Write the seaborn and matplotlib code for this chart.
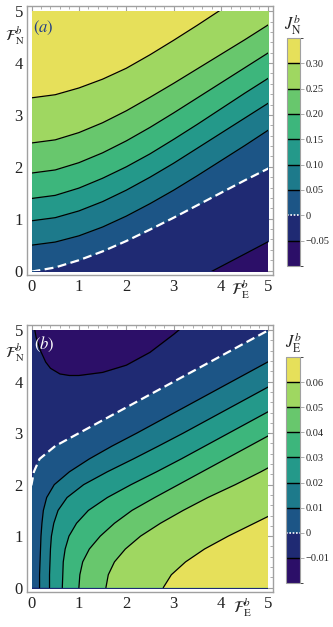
import matplotlib
matplotlib.use("Agg")
import matplotlib.pyplot as plt
import seaborn as sns
from matplotlib.colors import ListedColormap, BoundaryNorm
from matplotlib.colorbar import ColorbarBase
from matplotlib.patches import Rectangle
from matplotlib.ticker import MultipleLocator

sns.set_style("white")
plt.rcParams['font.family'] = ['Liberation Serif', 'DejaVu Serif']
plt.rcParams['mathtext.fontset'] = 'stix'

# band colours, lowest level band first
band_colors = ['#2c0f68', '#1f2a73', '#1c5586', '#1d7a8b', '#24998a',
               '#3db67c', '#68c76d', '#9fd761', '#e6e05a']

# ---- panel (a): J_N^b, level lines read as F_N at given F_E ----
fe_a = [0, 0.5, 1, 1.5, 2, 2.5, 3, 3.5, 4, 4.5, 5]
jn_m005 = [-1.7, -1.5, -1.3, -1.1, -0.88, -0.64, -0.4, -0.16, 0.08, 0.32, 0.56]
jn_000 = [-0.02, 0.06, 0.2, 0.37, 0.57, 0.79, 1.02, 1.26, 1.5, 1.74, 1.97]
jn_005 = [0.49, 0.55, 0.67, 0.84, 1.05, 1.29, 1.55, 1.83, 2.12, 2.41, 2.71]
jn_010 = [0.96, 1.02, 1.15, 1.33, 1.55, 1.8, 2.07, 2.36, 2.65, 2.94, 3.23]
jn_015 = [1.39, 1.45, 1.59, 1.78, 2.0, 2.25, 2.53, 2.82, 3.12, 3.42, 3.71]
jn_020 = [1.88, 1.94, 2.08, 2.27, 2.5, 2.76, 3.04, 3.33, 3.62, 3.91, 4.2]
jn_025 = [2.46, 2.52, 2.66, 2.85, 3.08, 3.34, 3.61, 3.89, 4.17, 4.45, 4.74]
jn_030 = [3.33, 3.39, 3.52, 3.69, 3.9, 4.16, 4.44, 4.73, 5.03, 5.33, 5.63]
levels_a = [-0.05, 0, 0.05, 0.10, 0.15, 0.20, 0.25, 0.30]
labels_a = ['\u22120.05', '0', '0.05', '0.10', '0.15', '0.20', '0.25', '0.30']

# ---- panel (b): J_E^b, level lines read as F_E at given F_N ----
fn_b = [0, 0.25, 0.5, 0.75, 1, 1.25, 1.5, 1.75, 2, 2.25, 2.5, 2.75, 3, 3.5, 4, 4.5, 5]
je_000 = [-2.0, -1.6, -1.3, -1.0, -0.8, -0.6, -0.4, -0.2, 0.0, 0.05, 0.17, 0.5, 1.0, 2.0, 3.0, 4.0, 5.0]
je_001 = [0.17, 0.17, 0.18, 0.19, 0.2, 0.22, 0.25, 0.32, 0.48, 0.8, 1.22, 1.7, 2.22, 3.22, 4.22, 5.22, 6.22]
je_002 = [0.38, 0.38, 0.39, 0.4, 0.42, 0.47, 0.56, 0.75, 1.1, 1.6, 2.15, 2.68, 3.2, 4.2, 5.2, 6.2, 7.2]
je_003 = [0.65, 0.66, 0.67, 0.71, 0.79, 0.95, 1.2, 1.6, 2.1, 2.64, 3.16, 3.66, 4.16, 5.16, 6.16, 7.16, 8.16]
je_004 = [1.0, 1.02, 1.08, 1.22, 1.45, 1.75, 2.12, 2.6, 3.1, 3.6, 4.1, 4.6, 5.1, 6.1, 7.1, 8.1, 9.1]
je_005 = [1.57, 1.62, 1.75, 1.98, 2.3, 2.72, 3.2, 3.72, 4.3, 4.84, 5.34, 5.84, 6.34, 7.34, 8.34, 9.34, 10.34]
je_006 = [2.78, 2.95, 3.25, 3.65, 4.15, 4.7, 5.25, 5.8, 6.35, 6.9, 7.4, 7.9, 8.4, 9.4, 10.4, 11.4, 12.4]
# the -0.01 line closes off the top-left corner: F_N at given F_E
fe_top = [0, 0.05, 0.1, 0.2, 0.3, 0.4, 0.6, 0.8, 1.0, 1.5, 2.0, 2.5, 3.0, 3.5, 4.0, 5.0]
je_m001 = [5.5, 5.1, 4.85, 4.58, 4.38, 4.26, 4.15, 4.12, 4.12, 4.18, 4.32, 4.57, 4.92, 5.3, 5.7, 6.5]
levels_b = [-0.01, 0, 0.01, 0.02, 0.03, 0.04, 0.05, 0.06]
labels_b = ['\u22120.01', '0', '0.01', '0.02', '0.03', '0.04', '0.05', '0.06']

frame_gray = '#a0a0a0'
fig = plt.figure(figsize=(3.33, 6.27), dpi=100)


def setup_axes(ax):
    ax.set_xlim(-0.095, 5.095)
    ax.set_ylim(-0.085, 5.1)
    ax.set_xticks(range(6))
    ax.set_yticks(range(6))
    ax.xaxis.set_minor_locator(MultipleLocator(0.2))
    ax.yaxis.set_minor_locator(MultipleLocator(0.2))
    ax.tick_params(which='both', direction='in', top=True, right=True,
                   color=frame_gray, labelsize=12, pad=3, labelcolor='#222222')
    ax.tick_params(which='major', length=4, width=0.8)
    ax.tick_params(which='minor', length=2, width=0.6)
    for s in ax.spines.values():
        s.set_color(frame_gray)
        s.set_linewidth(1.0)


def contour_line(ax, x, y, clip, zero=False):
    if zero:
        sns.lineplot(x=x, y=y, ax=ax, color='white', lw=1.6, sort=False,
                     estimator=None, linestyle=(0, (4, 2)))
    else:
        sns.lineplot(x=x, y=y, ax=ax, color='black', lw=0.9, sort=False,
                     estimator=None)
    ax.lines[-1].set_clip_path(clip)


def add_cbar(rect, levels, labels, title, title_xy):
    cax = fig.add_axes(rect)
    step = levels[1] - levels[0]
    bounds = [levels[0] - step] + levels + [levels[-1] + step]
    cmap = ListedColormap(band_colors)
    norm = BoundaryNorm(bounds, cmap.N)
    cb = ColorbarBase(cax, cmap=cmap, norm=norm, boundaries=bounds,
                      ticks=levels, spacing='uniform')
    cb.set_ticklabels(labels)
    for lv in levels:
        if lv == 0:
            cax.axhline(lv, color='white', lw=1.2, ls=(0, (1, 1)))
        else:
            cax.axhline(lv, color='black', lw=1.0)
    cb.outline.set_edgecolor(frame_gray)
    cb.outline.set_linewidth(0.8)
    cax.tick_params(length=3, width=0.6, color=frame_gray, labelsize=7.5, pad=1,
                    labelcolor='#222222')
    fig.text(title_xy[0], title_xy[1], title, fontsize=12, ha='center', va='center')


# ---------- panel (a) ----------
ax_a = fig.add_axes([0.0811, 0.5614, 0.7387, 0.4290])
setup_axes(ax_a)
clip_a = Rectangle((0, 0), 5, 5, transform=ax_a.transData)
base = ax_a.fill_between([0, 5], -1, 6, color=band_colors[0], lw=0)
base.set_clip_path(clip_a)
curves_a = [jn_m005, jn_000, jn_005, jn_010, jn_015, jn_020, jn_025, jn_030]
for k, c in enumerate(curves_a):
    band = ax_a.fill_between(fe_a, c, 10, color=band_colors[k + 1], lw=0)
    band.set_clip_path(clip_a)
for lv, c in zip(levels_a, curves_a):
    contour_line(ax_a, fe_a, c, clip_a, zero=(lv == 0))
ax_a.set_xlim(-0.095, 5.095)
ax_a.set_ylim(-0.085, 5.1)
ax_a.set_xlabel('')
ax_a.set_ylabel('')
ax_a.text(0.065, 0.918, '$(a)$', transform=ax_a.transAxes, color='#233f86',
          fontsize=12, ha='center', va='center')
ax_a.text(-0.05, 0.888, r'$\mathcal{F}_{\mathrm{N}}^{b}$', transform=ax_a.transAxes,
          fontsize=11, ha='center', va='center')
ax_a.text(0.87, -0.056, r'$\mathcal{F}_{\mathrm{E}}^{b}$', transform=ax_a.transAxes,
          fontsize=11.5, ha='center', va='center')
add_cbar([0.861, 0.5758, 0.040, 0.3636], levels_a, labels_a,
         r'$J_{\mathrm{N}}^{b}$', (0.88, 0.960))

# ---------- panel (b) ----------
ax_b = fig.add_axes([0.0811, 0.0558, 0.7387, 0.4258])
setup_axes(ax_b)
clip_b = Rectangle((0, 0), 5, 5, transform=ax_b.transData)
base = ax_b.fill_between([0, 5], -1, 6, color=band_colors[1], lw=0)
base.set_clip_path(clip_b)
curves_b = [je_000, je_001, je_002, je_003, je_004, je_005, je_006]
for k, c in enumerate(curves_b):
    band = ax_b.fill_betweenx(fn_b, c, 20, color=band_colors[k + 2], lw=0)
    band.set_clip_path(clip_b)
top = ax_b.fill_between(fe_top, je_m001, 7, color=band_colors[0], lw=0)
top.set_clip_path(clip_b)
for lv, c in zip(levels_b[1:], curves_b):
    contour_line(ax_b, c, fn_b, clip_b, zero=(lv == 0))
contour_line(ax_b, fe_top, je_m001, clip_b)
ax_b.set_xlim(-0.095, 5.095)
ax_b.set_ylim(-0.085, 5.1)
ax_b.set_xlabel('')
ax_b.set_ylabel('')
ax_b.text(0.069, 0.929, '$(b)$', transform=ax_b.transAxes, color='white',
          fontsize=12, ha='center', va='center')
ax_b.text(-0.05, 0.897, r'$\mathcal{F}_{\mathrm{N}}^{b}$', transform=ax_b.transAxes,
          fontsize=11, ha='center', va='center')
ax_b.text(0.878, -0.06, r'$\mathcal{F}_{\mathrm{E}}^{b}$', transform=ax_b.transAxes,
          fontsize=11.5, ha='center', va='center')
add_cbar([0.858, 0.0702, 0.043, 0.3604], levels_b, labels_b,
         r'$J_{\mathrm{E}}^{b}$', (0.88, 0.453))

fig.savefig('out.png', dpi=100)
